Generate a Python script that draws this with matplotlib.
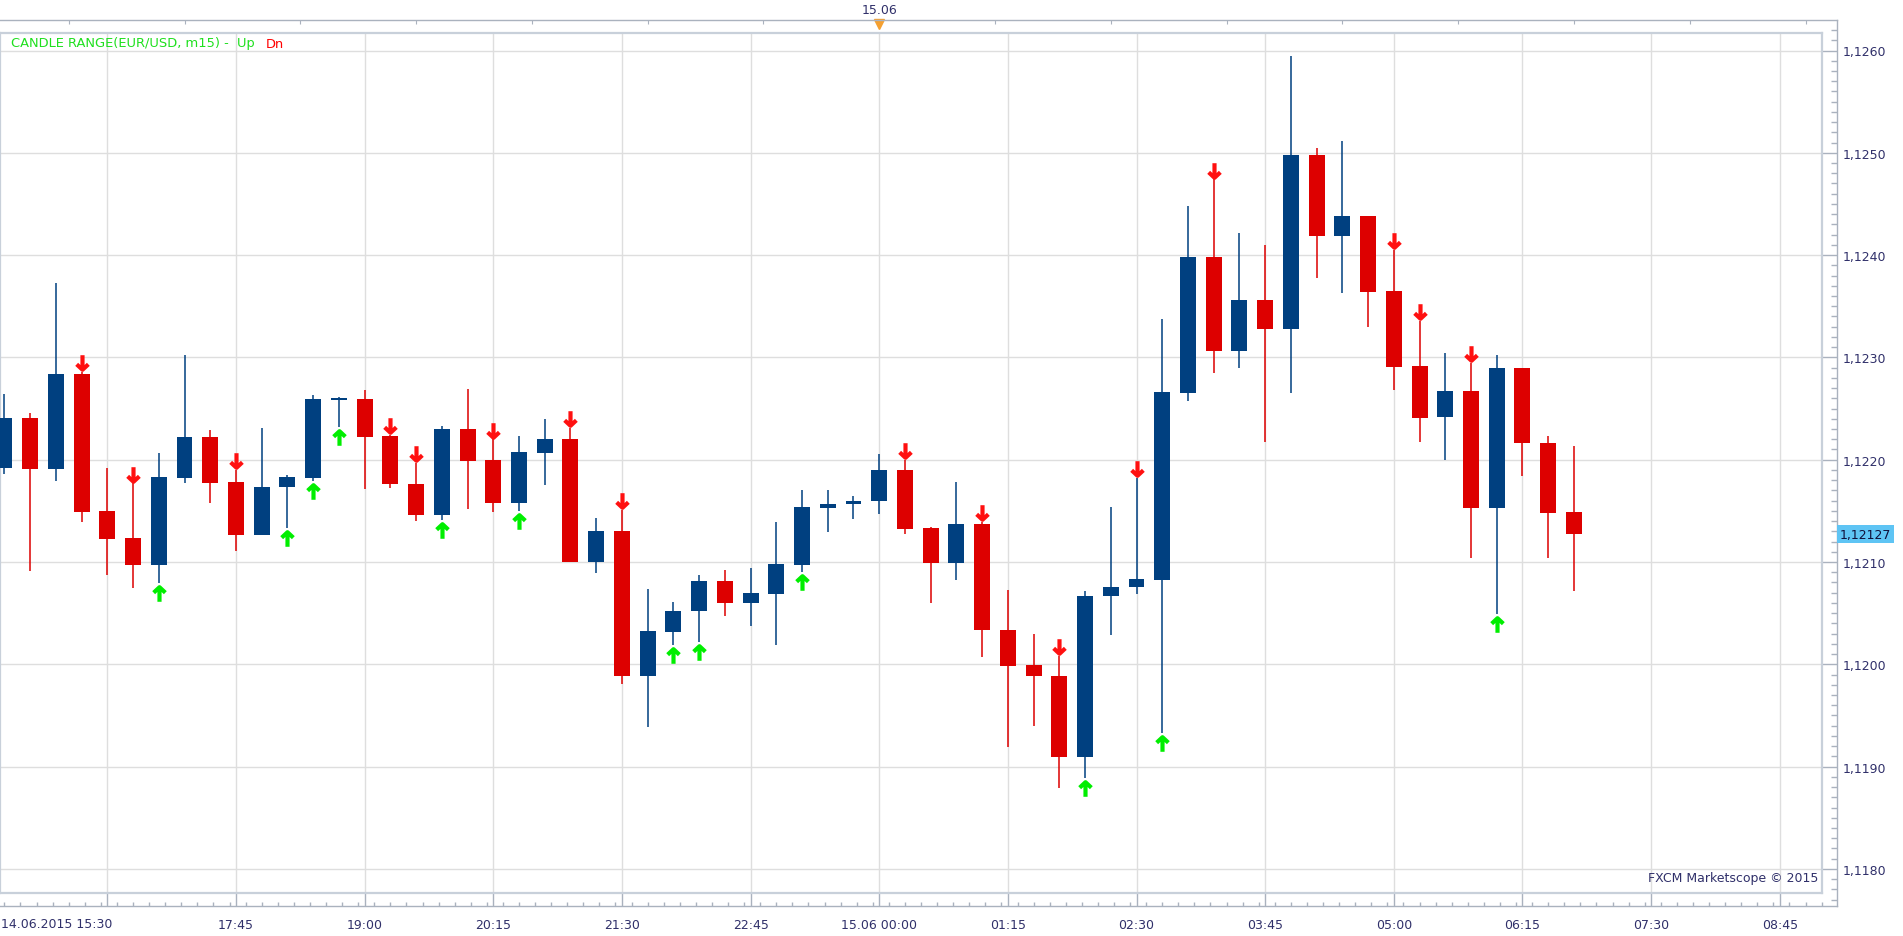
import matplotlib
matplotlib.use("Agg")
import matplotlib.pyplot as plt
import matplotlib.transforms as mtransforms
from matplotlib.path import Path
from matplotlib.ticker import MultipleLocator
import numpy as np

# EUR/USD m15 candles, 14.06.2015 15:30 -> 15.06.2015 06:45
opens = [1.12192, 1.12241, 1.12191, 1.12284, 1.12150, 1.12123, 1.12097, 1.12182, 1.12222, 1.12178,
         1.12126, 1.12173, 1.12182, 1.12258, 1.12259, 1.12223, 1.12176, 1.12146, 1.12230, 1.12200,
         1.12158, 1.12207, 1.12220, 1.12100, 1.12130, 1.11989, 1.12032, 1.12052, 1.12081, 1.12060,
         1.12069, 1.12097, 1.12153, 1.12157, 1.12160, 1.12190, 1.12133, 1.12099, 1.12137, 1.12034,
         1.11999, 1.11989, 1.11909, 1.12067, 1.12076, 1.12082, 1.12265, 1.12398, 1.12306, 1.12356,
         1.12328, 1.12498, 1.12419, 1.12438, 1.12365, 1.12292, 1.12242, 1.12267, 1.12153, 1.12290,
         1.12216, 1.12149]
highs = [1.12264, 1.12246, 1.12373, 1.12286, 1.12192, 1.12177, 1.12207, 1.12302, 1.12229, 1.12190,
         1.12231, 1.12185, 1.12263, 1.12261, 1.12268, 1.12224, 1.12197, 1.12233, 1.12269, 1.12220,
         1.12223, 1.12240, 1.12231, 1.12143, 1.12151, 1.12074, 1.12061, 1.12087, 1.12092, 1.12094,
         1.12139, 1.12170, 1.12170, 1.12165, 1.12206, 1.12200, 1.12134, 1.12178, 1.12139, 1.12073,
         1.12030, 1.12008, 1.12072, 1.12154, 1.12182, 1.12338, 1.12448, 1.12474, 1.12422, 1.12410,
         1.12595, 1.12505, 1.12512, 1.12438, 1.12405, 1.12336, 1.12304, 1.12295, 1.12302, 1.12290,
         1.12223, 1.12213]
lows = [1.12186, 1.12091, 1.12179, 1.12139, 1.12087, 1.12075, 1.12079, 1.12177, 1.12158, 1.12111,
        1.12126, 1.12133, 1.12179, 1.12232, 1.12171, 1.12172, 1.12140, 1.12141, 1.12152, 1.12149,
        1.12150, 1.12175, 1.12100, 1.12089, 1.11981, 1.11939, 1.12019, 1.12022, 1.12047, 1.12037,
        1.12019, 1.12090, 1.12129, 1.12142, 1.12147, 1.12127, 1.12060, 1.12082, 1.12007, 1.11919,
        1.11940, 1.11879, 1.11889, 1.12029, 1.12069, 1.11933, 1.12257, 1.12285, 1.12290, 1.12217,
        1.12265, 1.12378, 1.12363, 1.12330, 1.12268, 1.12217, 1.12200, 1.12104, 1.12049, 1.12184,
        1.12104, 1.12072]
closes = [1.12241, 1.12191, 1.12284, 1.12149, 1.12122, 1.12097, 1.12183, 1.12222, 1.12177, 1.12126,
          1.12173, 1.12183, 1.12259, 1.12260, 1.12222, 1.12176, 1.12146, 1.12230, 1.12199, 1.12158,
          1.12208, 1.12220, 1.12100, 1.12130, 1.11989, 1.12033, 1.12052, 1.12081, 1.12060, 1.12070,
          1.12098, 1.12154, 1.12157, 1.12160, 1.12190, 1.12132, 1.12099, 1.12137, 1.12034, 1.11998,
          1.11989, 1.11909, 1.12067, 1.12076, 1.12083, 1.12266, 1.12398, 1.12306, 1.12356, 1.12328,
          1.12498, 1.12419, 1.12438, 1.12364, 1.12291, 1.12241, 1.12267, 1.12153, 1.12290, 1.12216,
          1.12148, 1.12127]

# CANDLE RANGE signals (candle index)
up_signals = [6, 11, 12, 13, 17, 20, 26, 27, 31, 42, 45, 58]
down_signals = [3, 5, 9, 15, 16, 19, 22, 24, 35, 38, 41, 44, 47, 54, 55, 57]

time_tick_pos = [4, 9, 14, 19, 24, 29, 34, 39, 44, 49, 54, 59, 64, 69]
time_tick_labels = ["", "17:45", "19:00", "20:15", "21:30", "22:45", "15.06 00:00",
                    "01:15", "02:30", "03:45", "05:00", "06:15", "07:30", "08:45"]
first_time_label = "14.06.2015 15:30"
day_label = "15.06"
day_pos = 34
price_ticks = [1.1180, 1.1190, 1.1200, 1.1210, 1.1220, 1.1230, 1.1240, 1.1250, 1.1260]
last_price = 1.12127

# ---- layout (pixels of the 1903x937 picture) ----
W, H = 1903, 937

def fx(px):
    return px / W

def fy(py):
    return 1 - py / H

def price_at(py):
    return 1.1260 - (py - 51.5) / 102300

def idx_at(px):
    return (px - 4.4) / 25.73

TXT = "#30306a"
GRID = "#dedede"
FRAME = "#aab2be"
BLUE = "#004080"
RED = "#dd0000"

plt.rcParams["font.family"] = ["DejaVu Sans"]

fig = plt.figure(figsize=(W / 100, H / 100), dpi=100, facecolor="white")

# outer frame carries the scales (ticks + labels)
outer = fig.add_axes([0, fy(907), fx(1837), (907 - 21) / H])
outer.set_xlim(idx_at(0), idx_at(1837))
outer.set_ylim(price_at(907), price_at(21))
outer.set_facecolor("white")
for s in outer.spines.values():
    s.set_color(FRAME)
    s.set_linewidth(1.0)
outer.spines["left"].set_visible(False)

outer.yaxis.tick_right()
outer.set_yticks(price_ticks)
outer.set_yticklabels([f"{p:.4f}".replace(".", ",") for p in price_ticks])
outer.yaxis.set_minor_locator(MultipleLocator(0.0001))
outer.tick_params(axis="y", which="major", direction="in", length=10.8, width=1,
                  color=FRAME, labelsize=9, labelcolor=TXT, pad=4)
outer.tick_params(axis="y", which="minor", direction="in", length=4, width=1, color=FRAME)

outer.set_xticks(time_tick_pos)
outer.set_xticklabels(time_tick_labels)
outer.xaxis.set_minor_locator(MultipleLocator(0.625))
outer.tick_params(axis="x", which="major", direction="in", length=9.4, width=1,
                  color=FRAME, labelsize=9, labelcolor=TXT, pad=9)
outer.tick_params(axis="x", which="minor", direction="in", length=3, width=1, color=FRAME)

top = outer.secondary_xaxis("top")
top.set_xticks(np.arange(2.5, 71, 4.5))
top.tick_params(direction="in", length=3, color=FRAME, labeltop=False)
top.spines["top"].set_visible(False)

# main price panel
ax = fig.add_axes([0, fy(894), fx(1822), (894 - 33.5) / H])
ax.set_xlim(idx_at(0), idx_at(1822))
ax.set_ylim(price_at(894), price_at(33.5))
ax.set_facecolor("white")
for s in ax.spines.values():
    s.set_color("#c8d0da")
    s.set_linewidth(1.6)
ax.set_xticks(time_tick_pos)
ax.set_yticks(price_ticks)
ax.grid(True, color=GRID, linewidth=1)
ax.set_axisbelow(True)
ax.tick_params(length=0, labelbottom=False, labelleft=False)

o = np.array(opens)
h = np.array(highs)
l = np.array(lows)
c = np.array(closes)
x = np.arange(len(o))
colors = np.where(c >= o, BLUE, RED)

ax.vlines(x, l, h, colors=colors, linewidth=1.1, zorder=3)
ax.bar(x, np.maximum(np.abs(c - o), 0.00002), bottom=np.minimum(o, c),
       width=0.62, color=colors, linewidth=0, zorder=4)

up_arrow = Path([(0, -1), (0, 1), (-0.8, 0.25), (0, 1), (0.8, 0.25)],
                [Path.MOVETO, Path.LINETO, Path.MOVETO, Path.LINETO, Path.LINETO])
down_arrow = Path([(0, 1), (0, -1), (-0.8, -0.25), (0, -1), (0.8, -0.25)],
                  [Path.MOVETO, Path.LINETO, Path.MOVETO, Path.LINETO, Path.LINETO])

ax.plot(up_signals, l[up_signals] - 0.000105, ls="none", marker=up_arrow, ms=10.5,
        mew=3, mec="#00ee00", mfc="none", zorder=5)
ax.plot(down_signals, h[down_signals] + 0.000095, ls="none", marker=down_arrow, ms=10.5,
        mew=3, mec="#ff1010", mfc="none", zorder=5)

# texts
fig.text(fx(10.7), fy(44), "CANDLE RANGE(EUR/USD, m15) -  Up", color="#1ee01e",
         fontsize=9.4, va="center", ha="left")
fig.text(fx(266), fy(44), "Dn", color="#ff0000", fontsize=9.4, va="center", ha="left")
fig.text(fx(1), fy(925), first_time_label, color=TXT, fontsize=9, va="center", ha="left")
fig.text(fx(1818), fy(879), "FXCM Marketscope \u00a9 2015", color=TXT, fontsize=9,
         va="center", ha="right")

day_tr = mtransforms.blended_transform_factory(outer.transData, fig.transFigure)
outer.text(day_pos, fy(11), day_label, transform=day_tr, color=TXT, fontsize=9,
           ha="center", va="center")
outer.plot([day_pos], [price_at(25)], marker="v", ms=7, color="#f5a030", clip_on=False)

tag_tr = mtransforms.blended_transform_factory(outer.transAxes, outer.transData)
outer.text(1.0015, last_price, f"{last_price:.5f}".replace(".", ","), transform=tag_tr,
           color="#10103a", fontsize=9, va="center", ha="left",
           bbox=dict(boxstyle="square,pad=0.2", fc="#5ec4f4", ec="none"))

fig.savefig("out.png", dpi=100, facecolor="white")
